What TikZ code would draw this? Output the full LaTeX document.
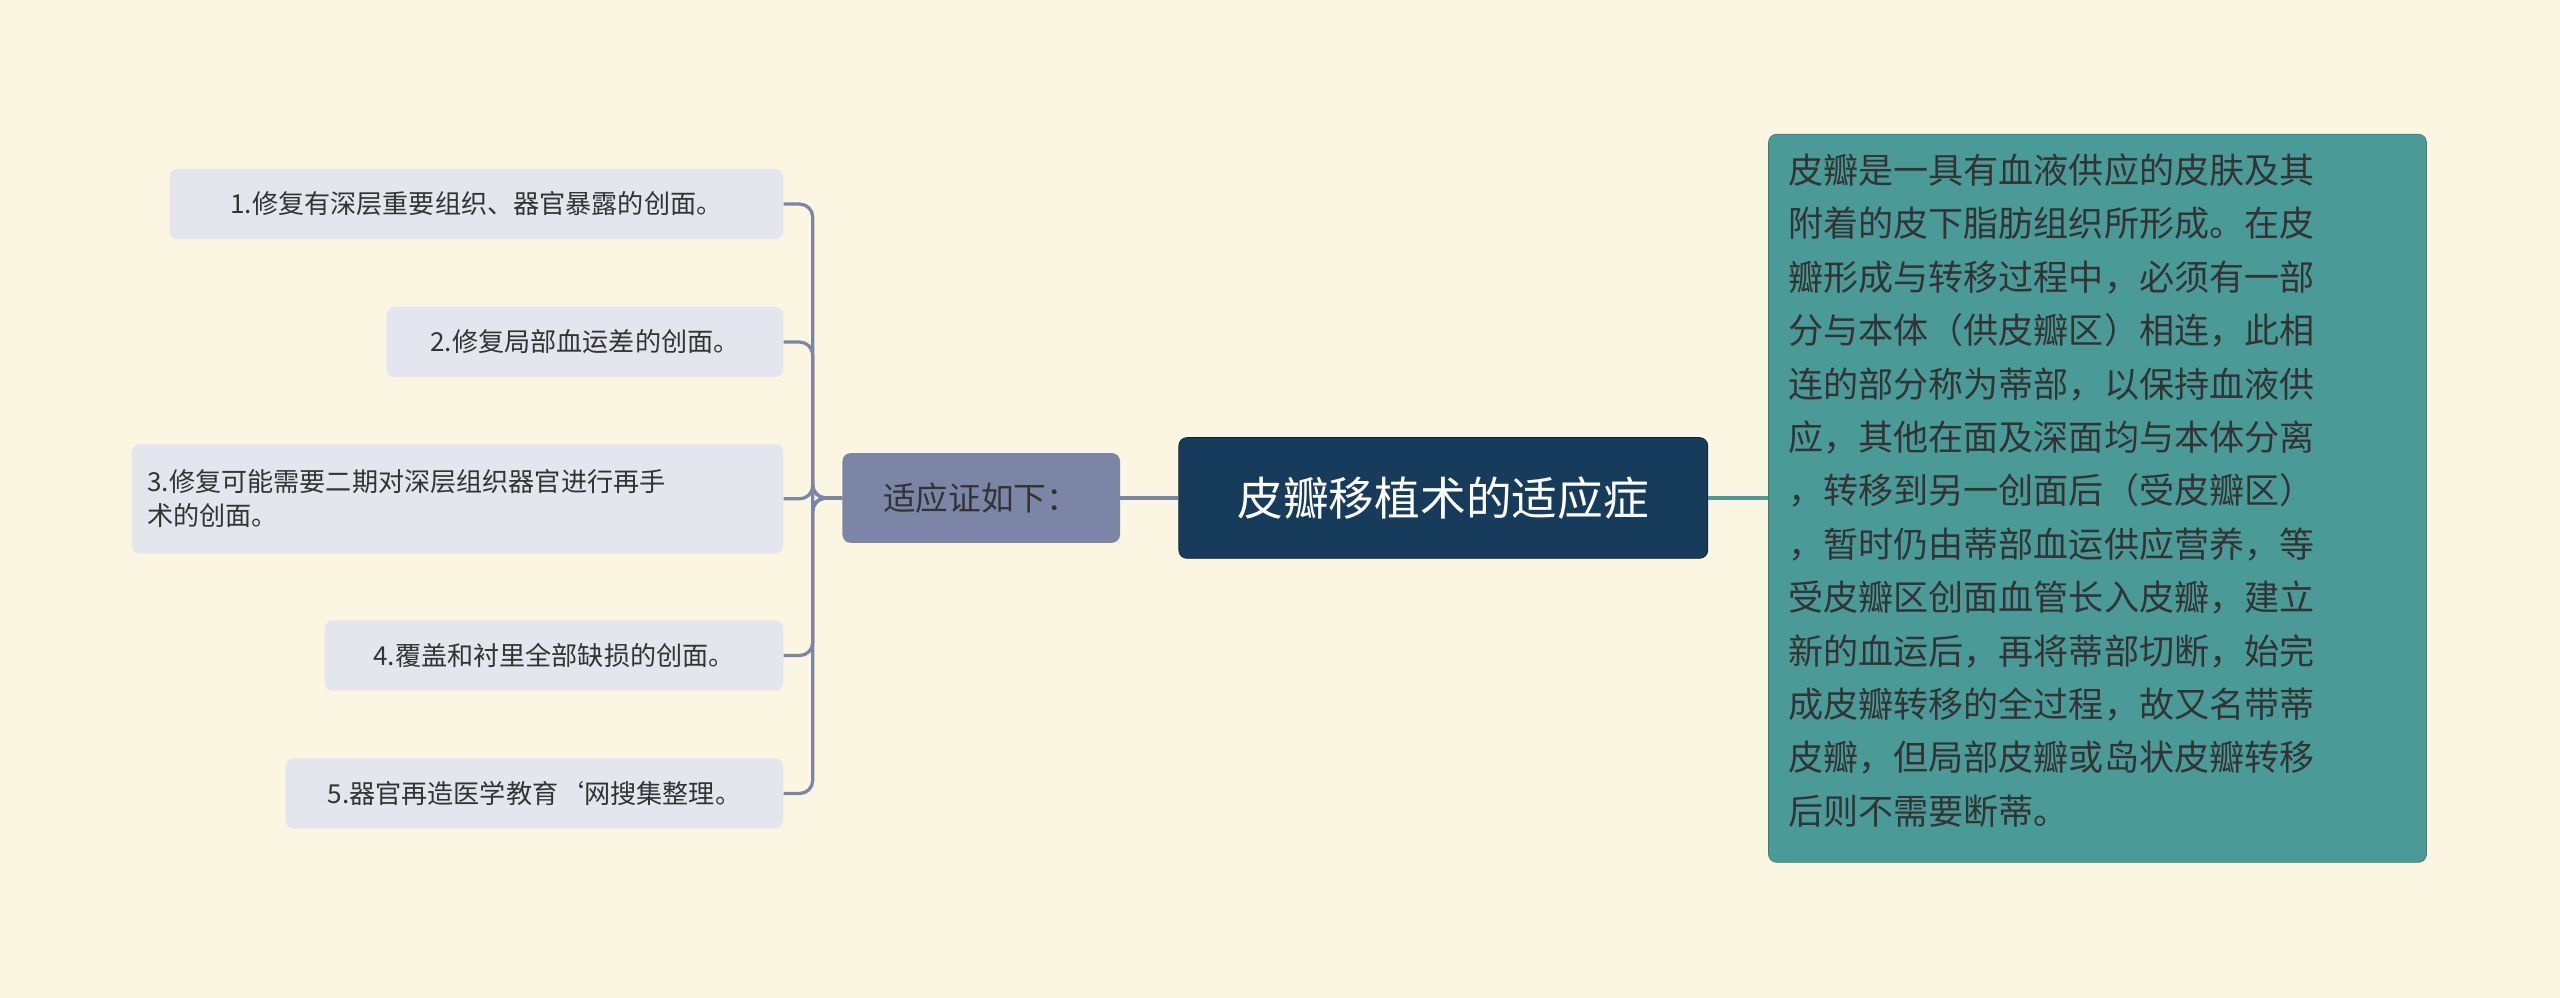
\documentclass[tikz,border=0pt]{standalone}
\usepackage{fontspec}
\setmainfont{Noto Sans CJK SC}
\begin{document}
\begin{tikzpicture}[x=1pt,y=-1pt,
 leaf/.style={fill=leafc,rounded corners=5pt,font=\fontsize{16}{21}\selectfont,text=black!80,inner sep=0pt,anchor=east,minimum height=43pt},
 conn/.style={draw=linec,line width=2pt,rounded corners=8pt}]
\definecolor{bg}{HTML}{FBF6E1}
\definecolor{leafc}{HTML}{E4E6EE}
\definecolor{linec}{HTML}{7B86A6}
\definecolor{centc}{HTML}{173B5B}
\definecolor{tealc}{HTML}{4A9B97}
\fill[bg] (0,0) rectangle (1568,611);
\useasboundingbox (0,0) rectangle (1568,611);
\node[fill=centc,rounded corners=5pt,draw=centc!60!black,text=white,minimum width=324pt,minimum height=74pt,font=\fontsize{28}{32}\selectfont] (c) at (884,305) {皮瓣移植术的适应症};
\node[fill=linec,rounded corners=5pt,minimum width=170pt,minimum height=55pt,font=\fontsize{20}{24}\selectfont,text=black!80] (m) at (601,305) {适应证如下：};
\node[fill=tealc,rounded corners=5pt,draw=tealc!80!black,minimum width=403pt,minimum height=446pt,anchor=north west,inner sep=0pt] (r) at (1083,82) {};
\node[anchor=north west,inner sep=0pt,text=black!80,align=left,font=\fontsize{21.5}{32.7}\selectfont] (rt) at (1095,94) {皮瓣是一具有血液供应的皮肤及其\\附着的皮下脂肪组织所形成。在皮\\瓣形成与转移过程中，必须有一部\\分与本体（供皮瓣区）相连，此相\\连的部分称为蒂部，以保持血液供\\应，其他在面及深面均与本体分离\\，转移到另一创面后（受皮瓣区）\\，暂时仍由蒂部血运供应营养，等\\受皮瓣区创面血管长入皮瓣，建立\\新的血运后，再将蒂部切断，始完\\成皮瓣转移的全过程，故又名带蒂\\皮瓣，但局部皮瓣或岛状皮瓣转移\\后则不需要断蒂。};
\node[leaf,minimum width=376pt] (l1) at (480,125) {1.修复有深层重要组织、器官暴露的创面。};
\node[leaf,minimum width=243pt] (l2) at (480,209.5) {2.修复局部血运差的创面。};
\node[leaf,minimum width=399pt,minimum height=67pt,align=left,text width=380pt,inner xsep=9.5pt] (l3) at (480,305.5) {3.修复可能需要二期对深层组织器官进行再手\\术的创面。};
\node[leaf,minimum width=281pt] (l4) at (480,401.5) {4.覆盖和衬里全部缺损的创面。};
\node[leaf,minimum width=305pt] (l5) at (480,486) {5.器官再造医学教育`网搜集整理。};
\draw[draw=tealc,line width=2pt] (c.east) -- (r.west |- c.east);
\draw[conn] (m.east) -- (c.west);
\foreach \l in {l1,l2,l3,l4,l5}{\draw[conn] (m.west) -- ++(-18,0) |- (\l.east);}
\end{tikzpicture}
\end{document}
